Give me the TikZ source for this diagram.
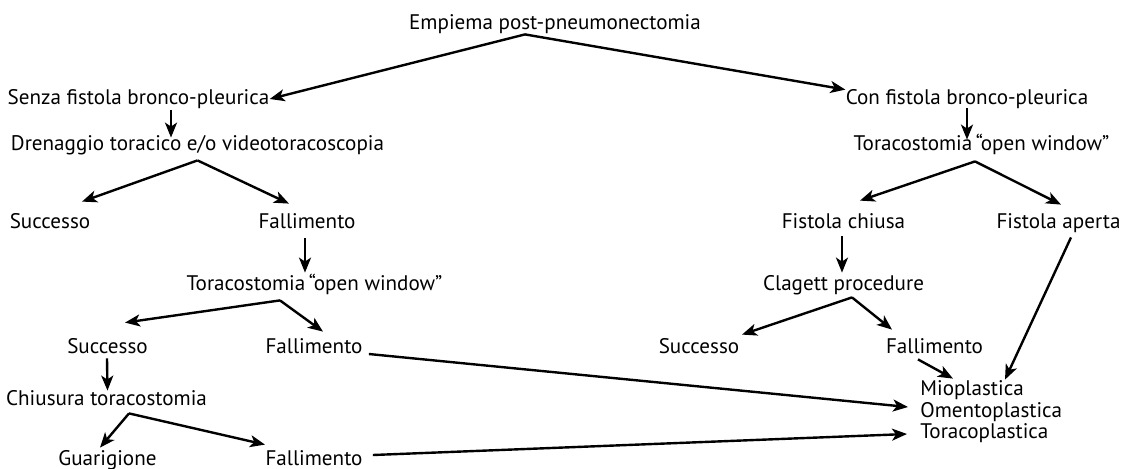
\documentclass[tikz,border=0pt]{standalone}
\usepackage{fontspec}
\setmainfont{PT Sans}
\usetikzlibrary{arrows.meta,calc}

\begin{document}
\begin{tikzpicture}[
    x=0.5pt, y=-0.5pt,
    lbl/.style={inner sep=0pt, text height=7pt, text depth=2pt, anchor=base,
                font=\fontsize{10.55pt}{11pt}\selectfont},
    arr/.style={-{Stealth[length=7.5pt,width=6pt,inset=2pt]}, line width=1.2pt}
  ]
  \useasboundingbox (0,0) rectangle (1125,468);

  % root and the two branches
  \node[lbl] (emp) at (555,29) {Empiema post-pneumonectomia};
  \node[lbl] (senza) at (138.5,104) {Senza fistola bronco-pleurica};
  \node[lbl] (con) at (967,104) {Con fistola bronco-pleurica};
  \node[lbl] (dren) at (197.5,150) {Drenaggio toracico e/o videotoracoscopia};
  \node[lbl] (torR) at (981.5,150) {Toracostomia\,“open window”};

  % left side
  \node[lbl] (succA) at (50,228) {Successo};
  \node[lbl] (fallA) at (307,228) {Fallimento};
  \node[lbl] (torL) at (314.5,290) {Toracostomia\,“open window”};
  \node[lbl] (succB) at (107.5,353) {Successo};
  \node[lbl] (fallB) at (314,353) {Fallimento};
  \node[lbl] (chius) at (106.5,405) {Chiusura toracostomia};
  \node[lbl] (guar) at (107.5,465) {Guarigione};
  \node[lbl] (fallD) at (314,465) {Fallimento};

  % right side
  \node[lbl] (fchiusa) at (843.5,228) {Fistola chiusa};
  \node[lbl] (faperta) at (1058.5,228) {Fistola aperta};
  \node[lbl] (clagett) at (843.5,290) {Clagett procedure};
  \node[lbl] (succC) at (699,353) {Successo};
  \node[lbl] (fallC) at (934.5,353) {Fallimento};
  \node[lbl, anchor=base west] (mio) at (920,395) {Mioplastica};
  \node[lbl, anchor=base west] (oment) at (920,417) {Omentoplastica};
  \node[lbl, anchor=base west] (torac) at (920,438) {Toracoplastica};

  % fork points
  \coordinate (fE) at ($(emp.south)+(-30,1)$);
  \coordinate (fD) at ($(dren.south)+(0,6)$);
  \coordinate (fR) at ($(torR.south)+(-6.5,7)$);
  \coordinate (fL) at ($(torL.south)+(-34.5,6)$);
  \coordinate (fC) at ($(clagett.south)+(8.5,3)$);
  \coordinate (fK) at ($(chius.south)+(22.5,4)$);

  \draw[arr] (fE) -- (senza.east);
  \draw[arr] (fE) -- (con.north west);
  \draw[arr] ($(senza.south)+(32.5,2)$) -- ($(dren.north)+(-26.5,2)$);
  \draw[arr] (con.south) -- ($(con.south |- torR.north)+(0,4)$);

  \draw[arr] (fD) -- ($(succA.north)+(32,-12)$);
  \draw[arr] (fD) -- ($(fallA.north)+(-18,-10)$);
  \draw[arr] (fR) -- ($(fchiusa.north)+(16.5,-13)$);
  \draw[arr] (fR) -- ($(faperta.north)+(2.5,-9)$);

  \draw[arr] ($(fallA.south)+(-2,6)$) -- ($(torL.north)+(-9.5,-3)$);
  \draw[arr] ($(fchiusa.south)+(-1.5,4)$) -- ($(clagett.north)+(-1.5,-3)$);
  \draw[arr] ($(faperta.south)+(12.5,5)$) -- ($(mio.north west)+(85,-1)$);

  \draw[arr] (fL) -- ($(succB.north)+(17.5,-16)$);
  \draw[arr] (fL) -- ($(fallB.north)+(9,-7)$);
  \draw[arr] (fC) -- ($(succC.north)+(43,-4)$);
  \draw[arr] (fC) -- ($(fallC.north)+(-42.5,-9)$);
  \draw[arr] ($(fallC.south)+(-16.5,2)$) -- ($(mio.north west)+(33,-2)$);

  \draw[arr] ($(succB.south)+(-0.5,1)$) -- (succB.south |- chius.north);
  \draw[arr] ($(fallB.east)+(6,6)$) -- ($(oment.west)+(-12,-5)$);
  \draw[arr] (fK) -- ($(guar.north)+(-7.5,-3)$);
  \draw[arr] (fK) -- ($(fallD.north)+(-49,-6)$);
  \draw[arr] ($(fallD.east)+(10,-5)$) -- ($(torac.west)+(-13,1)$);
\end{tikzpicture}
\end{document}
